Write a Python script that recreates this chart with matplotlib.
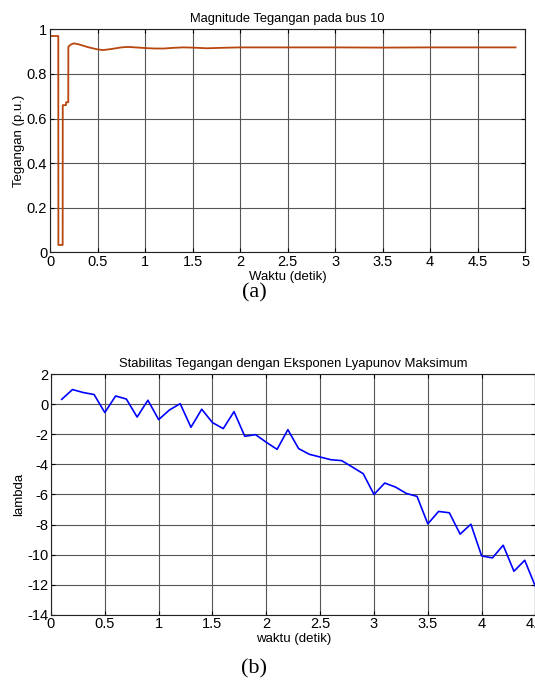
import matplotlib
matplotlib.use('Agg')
import matplotlib.pyplot as plt

plt.rcParams['font.family'] = ['Liberation Sans', 'DejaVu Sans']
plt.rcParams['axes.unicode_minus'] = False

# (a) tegangan bus 10
waktu_a = [0, 0.087, 0.088, 0.133, 0.134, 0.168, 0.169, 0.192, 0.193, 0.22, 0.25,
           0.3, 0.4, 0.5, 0.56, 0.65, 0.75, 0.82, 0.9, 1.0, 1.1, 1.2, 1.3, 1.4,
           1.5, 1.65, 1.8, 2.0, 2.5, 3.0, 3.5, 4.0, 4.5, 4.9]
tegangan = [0.970, 0.970, 0.033, 0.033, 0.660, 0.660, 0.673, 0.673, 0.922, 0.932, 0.937,
            0.933, 0.920, 0.910, 0.907, 0.912, 0.919, 0.921, 0.919, 0.916, 0.914, 0.914, 0.917, 0.919,
            0.918, 0.915, 0.917, 0.919, 0.919, 0.919, 0.918, 0.919, 0.919, 0.919]

# (b) eksponen Lyapunov maksimum
waktu_b = [0.1, 0.2, 0.3, 0.4, 0.5, 0.6, 0.7, 0.8, 0.9, 1.0,
           1.1, 1.2, 1.3, 1.4, 1.5, 1.6, 1.7, 1.8, 1.9, 2.0,
           2.1, 2.2, 2.3, 2.4, 2.5, 2.6, 2.7, 2.8, 2.9, 3.0,
           3.1, 3.2, 3.3, 3.4, 3.5, 3.6, 3.7, 3.8, 3.9, 4.0,
           4.1, 4.2, 4.3, 4.4, 4.5]
lam = [0.33, 0.98, 0.78, 0.65, -0.55, 0.55, 0.35, -0.85, 0.27, -1.02,
       -0.38, 0.04, -1.53, -0.33, -1.22, -1.62, -0.49, -2.13, -2.02, -2.53,
       -3.00, -1.69, -2.95, -3.33, -3.51, -3.69, -3.75, -4.18, -4.62, -6.00,
       -5.24, -5.51, -5.93, -6.13, -7.96, -7.13, -7.22, -8.64, -7.98, -10.09,
       -10.22, -9.38, -11.11, -10.38, -12.13]

fig = plt.figure(figsize=(5.35, 6.82), dpi=100)
fig.patch.set_facecolor('white')


def gaya(ax):
    ax.grid(True, color='#555555', linewidth=0.8)
    ax.set_axisbelow(True)
    ax.tick_params(direction='in', top=True, right=True, length=3, width=0.8,
                   labelsize=10.5, pad=2)
    for s in ax.spines.values():
        s.set_color('#222222')
        s.set_linewidth(0.8)


ax1 = fig.add_axes([0.0935, 0.630, 0.8879, 0.327])
ax1.plot(waktu_a, tegangan, color='#b8460e', linewidth=1.3)
ax1.set_xlim(0, 5)
ax1.set_ylim(0, 1)
ax1.set_xticks([0, 0.5, 1, 1.5, 2, 2.5, 3, 3.5, 4, 4.5, 5])
ax1.set_xticklabels(['0', '0.5', '1', '1.5', '2', '2.5', '3', '3.5', '4', '4.5', '5'])
ax1.set_yticks([0, 0.2, 0.4, 0.6, 0.8, 1])
ax1.set_yticklabels(['0', '0.2', '0.4', '0.6', '0.8', '1'])
ax1.set_title('Magnitude Tegangan pada bus 10', fontsize=9.3, pad=5)
ax1.set_xlabel('Waktu (detik)', fontsize=9.5, labelpad=1)
ax1.set_ylabel('Tegangan (p.u.)', fontsize=9.5, labelpad=1)
gaya(ax1)

ax2 = fig.add_axes([0.0953, 0.0987, 0.9056, 0.3526])
ax2.plot(waktu_b, lam, color='#0000ff', linewidth=1.2)
ax2.set_xlim(0, 4.5)
ax2.set_ylim(-14, 2)
ax2.set_xticks([0, 0.5, 1, 1.5, 2, 2.5, 3, 3.5, 4, 4.5])
ax2.set_xticklabels(['0', '0.5', '1', '1.5', '2', '2.5', '3', '3.5', '4', '4.5'])
ax2.set_yticks(range(-14, 3, 2))
ax2.set_title('Stabilitas Tegangan dengan Eksponen Lyapunov Maksimum', fontsize=9.4, pad=5)
ax2.set_xlabel('waktu (detik)', fontsize=9.5, labelpad=1)
ax2.set_ylabel('lambda', fontsize=9.5, labelpad=1)
gaya(ax2)

fig.text(254 / 535, 1 - 293 / 682, '(a)', ha='center', va='center',
         fontsize=16, family=['Liberation Serif', 'DejaVu Serif'])
fig.text(254 / 535, 1 - 669 / 682, '(b)', ha='center', va='center',
         fontsize=16, family=['Liberation Serif', 'DejaVu Serif'])

fig.savefig('out.png', dpi=100, facecolor='white')
